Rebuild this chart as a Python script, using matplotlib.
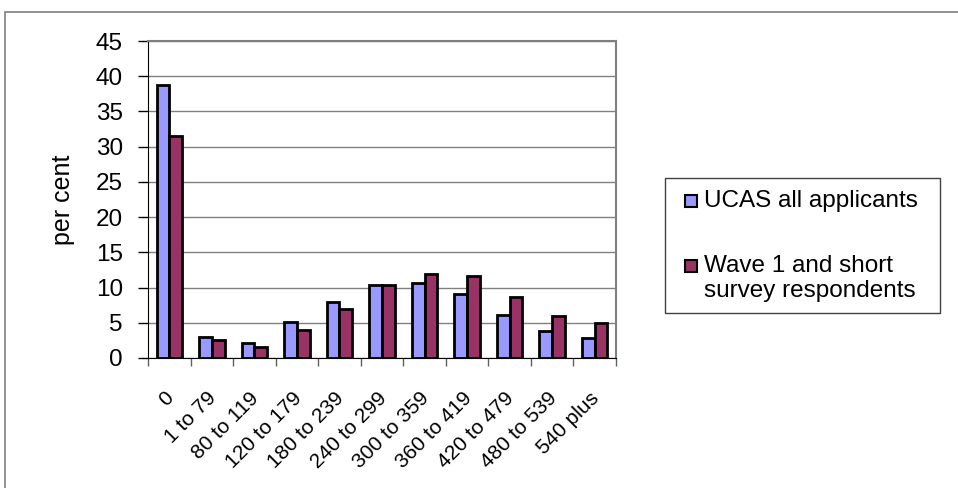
import numpy as np
import matplotlib
matplotlib.use("Agg")
import matplotlib.pyplot as plt
import matplotlib.transforms as mtransforms
from matplotlib.patches import Rectangle

plt.rcParams['font.family'] = ['Liberation Sans', 'DejaVu Sans']

# score bands and percentages
bands = ["0", "1 to 79", "80 to 119", "120 to 179", "180 to 239", "240 to 299",
         "300 to 359", "360 to 419", "420 to 479", "480 to 539", "540 plus"]
ucas_all = [38.7, 3.0, 2.1, 5.1, 8.0, 10.3, 10.6, 9.1, 6.1, 3.9, 2.8]
wave1_short = [31.5, 2.6, 1.6, 4.0, 7.0, 10.35, 11.9, 11.6, 8.7, 5.9, 4.9]
yticks = [0, 5, 10, 15, 20, 25, 30, 35, 40, 45]
series_names = ["UCAS all applicants", "Wave 1 and short\nsurvey respondents"]
series_colors = ["#9999FF", "#993366"]

W, H = 958, 488
fig = plt.figure(figsize=(W / 100, H / 100), dpi=100)

def fx(px):
    return px / W

def fy(py):
    return (H - py) / H

# outer chart frame (runs off the right and bottom edge)
fig.patches.append(Rectangle((fx(5), -0.1), 1.1, fy(12) + 0.1,
                             transform=fig.transFigure, fill=False,
                             edgecolor="#7f7f7f", lw=1.2, clip_on=False))

ax = fig.add_axes([fx(148), fy(358), fx(616) - fx(148), fy(41) - fy(358)])

x = np.arange(len(bands))
w = 0.3
ax.bar(x - w / 2, ucas_all, w, color=series_colors[0], edgecolor="black",
       lw=2, zorder=3)
ax.bar(x + w / 2, wave1_short, w, color=series_colors[1], edgecolor="black",
       lw=2, zorder=3)

ax.set_xlim(-0.5, len(bands) - 0.5)
ax.set_ylim(0, 45)
ax.set_yticks(yticks)
ax.tick_params(axis="y", labelsize=17.5, length=7, width=1, pad=11)
ax.yaxis.grid(True, color="#808080", lw=1, zorder=0)

# x ticks between categories, labels centred under groups
ax.set_xticks(np.arange(len(bands) + 1) - 0.5)
ax.set_xticklabels([])
ax.tick_params(axis="x", length=6, width=1, color="#606060")
ax.set_xticks(x, minor=True)
ax.set_xticklabels(bands, minor=True, rotation=45, ha="right", va="top",
                   rotation_mode="anchor", fontsize=15)
ax.tick_params(axis="x", which="minor", length=0, pad=22)
shift = mtransforms.ScaledTranslation(-0.05, 0, fig.dpi_scale_trans)
for lab in ax.get_xticklabels(minor=True):
    lab.set_transform(lab.get_transform() + shift)

for s in ["top", "right"]:
    ax.spines[s].set_color("#808080")
    ax.spines[s].set_linewidth(1.5)
ax.spines["left"].set_color("black")
ax.spines["bottom"].set_color("black")

ax.set_ylabel("per cent", fontsize=18, labelpad=15)

# legend box, drawn by hand so the second swatch sits on the first text line
fig.patches.append(Rectangle((fx(665), fy(313)), fx(940) - fx(665), fy(178) - fy(313),
                             transform=fig.transFigure, facecolor="white",
                             edgecolor="#404040", lw=1))
for i, (name, col) in enumerate(zip(series_names, series_colors)):
    top = 195 + i * 65
    fig.patches.append(Rectangle((fx(685), fy(top + 12)), fx(697) - fx(685), fy(top) - fy(top + 12),
                                 transform=fig.transFigure, facecolor=col,
                                 edgecolor="black", lw=1.5))
    fig.text(fx(704), fy(top - 5), name, fontsize=17.5, ha="left", va="top",
             linespacing=1.2)

fig.savefig("out.png", dpi=100)
